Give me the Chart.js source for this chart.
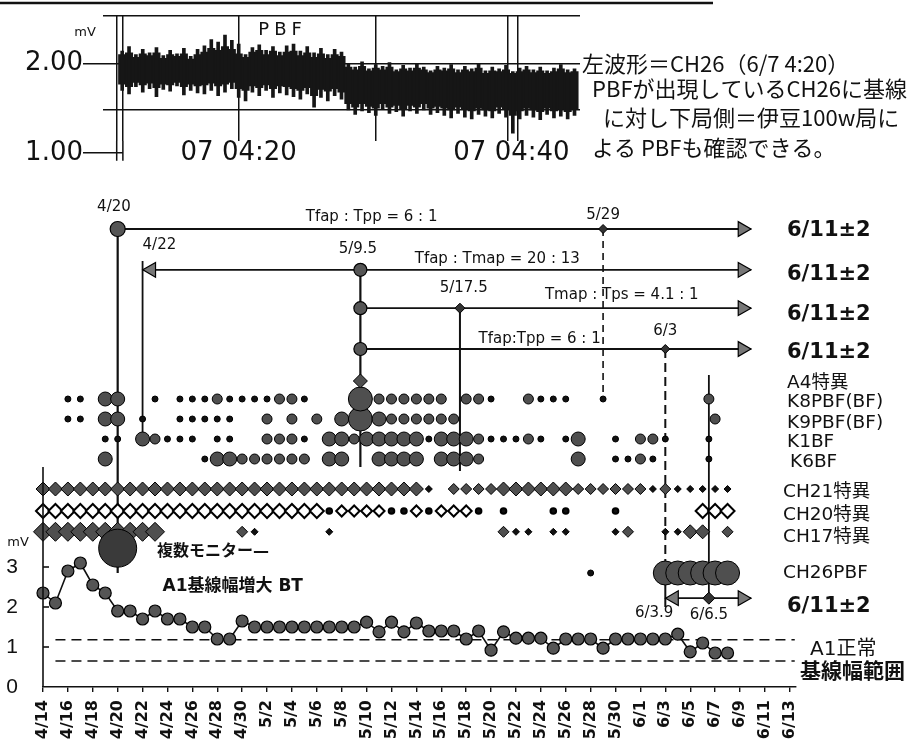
<!DOCTYPE html>
<html lang="ja">
<head>
<meta charset="utf-8">
<title>CH26 PBF と前兆の推移</title>
<script src="https://cdn.jsdelivr.net/npm/chart.js@4.4.1/dist/chart.umd.min.js"></script>
<style>
  html, body { margin: 0; padding: 0; background: #fff; }
  #wrap { position: relative; width: 914px; height: 752px; overflow: hidden; }
  canvas { position: absolute; left: 0; top: 0; }
</style>
</head>
<body>
<div id="wrap">
  <canvas id="main_chart" width="914" height="752"></canvas>
  <canvas id="wave_chart" width="914" height="190"></canvas>
</div>
<script>
// ---------- 上段: CH26 波形 (6/7, 30秒ごとの振れ幅 mV) ----------
var waveStart = 11.5;   // 4時11分30秒 (分)
var waveStep = 0.5;
var wavePeakHi = [2.14, 2.19, 2.10, 2.16, 2.12, 2.18, 2.09, 2.15, 2.11, 2.17, 2.08, 2.16,
  2.20, 2.27, 2.24, 2.32, 2.26, 2.22,
  2.10, 2.18, 2.21, 2.15, 2.19, 2.13, 2.20,
  2.22, 2.14, 2.19, 2.12, 2.17, 2.10, 2.16, 2.13,
  2.00, 1.96, 2.02, 1.94, 1.99, 1.97, 2.01, 1.93, 1.98, 1.95, 2.00, 1.96, 1.92, 1.97,
  1.95, 1.99, 1.93, 1.97, 1.94, 2.00, 1.92, 1.96, 1.94, 1.98, 1.91, 1.95, 1.97, 1.93, 1.96, 1.92, 1.95, 1.99, 1.93, 1.94];
var wavePeakLo = [1.70, 1.66, 1.74, 1.68, 1.72, 1.63, 1.71, 1.69, 1.75, 1.65, 1.70, 1.67,
  1.66, 1.70, 1.64, 1.68, 1.72, 1.62,
  1.58, 1.68, 1.64, 1.70, 1.62, 1.67, 1.65,
  1.63, 1.60, 1.66, 1.51, 1.62, 1.58, 1.64, 1.60,
  1.48, 1.43, 1.47, 1.45, 1.42, 1.49, 1.44, 1.46, 1.41, 1.47, 1.44, 1.48, 1.43, 1.45,
  1.42, 1.39, 1.44, 1.40, 1.38, 1.43, 1.41, 1.39, 1.44, 1.40, 1.22, 1.38, 1.42, 1.40, 1.37, 1.43, 1.39, 1.41, 1.38, 1.42];
var waveCoreHi = [2.10, 2.12, 2.07, 2.11, 2.09, 2.12, 2.06, 2.10, 2.08, 2.11, 2.05, 2.10,
  2.13, 2.17, 2.15, 2.19, 2.16, 2.11,
  2.07, 2.13, 2.15, 2.10, 2.14, 2.09, 2.13,
  2.14, 2.09, 2.12, 2.07, 2.11, 2.06, 2.10, 2.08,
  1.96, 1.93, 1.97, 1.92, 1.95, 1.93, 1.96, 1.91, 1.94, 1.92, 1.95, 1.93, 1.90, 1.93,
  1.92, 1.94, 1.90, 1.93, 1.91, 1.95, 1.89, 1.92, 1.91, 1.93, 1.89, 1.91, 1.93, 1.90, 1.92, 1.89, 1.91, 1.94, 1.90, 1.91];
var waveCoreLo = [1.77, 1.74, 1.79, 1.76, 1.78, 1.73, 1.77, 1.76, 1.79, 1.74, 1.77, 1.75,
  1.76, 1.78, 1.75, 1.77, 1.79, 1.72,
  1.70, 1.75, 1.73, 1.76, 1.72, 1.75, 1.74,
  1.72, 1.70, 1.73, 1.64, 1.71, 1.69, 1.72, 1.68,
  1.55, 1.51, 1.55, 1.52, 1.50, 1.55, 1.51, 1.53, 1.49, 1.53, 1.51, 1.55, 1.50, 1.52,
  1.50, 1.48, 1.51, 1.49, 1.47, 1.50, 1.48, 1.47, 1.51, 1.49, 1.42, 1.47, 1.50, 1.48, 1.46, 1.50, 1.47, 1.49, 1.46, 1.49];
var waveTicks = [11.1, 11.55, 20, 30, 39.65, 40.35];
var waveTimeLabels = ['07 04:20', '07 04:40'];
var waveNote = ['左波形＝CH26（6/7 4:20）', 'PBFが出現しているCH26に基線', 'に対し下局側＝伊豆100w局に', 'よる PBFも確認できる。'];

// ---------- 下段: 日別の前兆 (4/14 を 0 日とする) ----------
var dayLabels = ['4/14', '4/16', '4/18', '4/20', '4/22', '4/24', '4/26', '4/28', '4/30', '5/2', '5/4',
  '5/6', '5/8', '5/10', '5/12', '5/14', '5/16', '5/18', '5/20', '5/22', '5/24', '5/26', '5/28', '5/30',
  '6/1', '6/3', '6/5', '6/7', '6/9', '6/11', '6/13'];

// A1 基線幅 (mV)
var a1Days = [0, 1, 2, 3, 4, 5, 6, 7, 8, 9, 10, 11, 12, 13, 14, 15, 16, 17, 18, 19, 20, 21, 22, 23, 24, 25, 26, 27,
  28, 29, 30, 31, 32, 33, 34, 35, 36, 37, 38, 39, 40, 41, 42, 43, 44, 45, 46, 47, 48, 49, 50, 51, 52, 53, 54, 55];
var a1Values = [2.35, 2.1, 2.9, 3.1, 2.55, 2.35, 1.9, 1.9, 1.7, 1.9,
  1.7, 1.7, 1.5, 1.5, 1.2, 1.2, 1.65, 1.5, 1.5, 1.5,
  1.5, 1.5, 1.5, 1.5, 1.5, 1.5, 1.62, 1.38, 1.62, 1.38,
  1.6, 1.4, 1.4, 1.4, 1.2, 1.4, 0.92, 1.38, 1.22, 1.22,
  1.22, 0.97, 1.2, 1.2, 1.2, 0.97, 1.2, 1.2, 1.2, 1.2,
  1.2, 1.32, 0.88, 1.1, 0.85, 0.85];
var normalRange = [0.65, 1.18];   // A1 正常基線幅範囲 (mV)

// 各観測点の異常 (日, 強さ 1〜4)
var a4Days = [25.5];
var a4Level = [3];
var k8Days = [2, 3, 5, 6, 9, 11, 12, 13, 14, 15, 16, 17, 18, 19, 20, 21, 25.5, 27, 28, 29, 30, 31, 32, 34, 35, 36, 39, 40, 41, 42, 45, 53.5];
var k8Level = [1, 1, 3, 3, 1, 1, 1, 1, 2, 1, 1, 1, 1, 2, 2, 1, 4, 2, 2, 2, 2, 2, 2, 2, 2, 1, 2, 1, 1, 1, 1, 2];
var k9Days = [2, 3, 5, 6, 8, 11, 12, 13, 14, 15, 18, 20, 22, 24, 25.5, 27, 28, 29, 30, 31, 32, 33, 54];
var k9Level = [1, 1, 3, 3, 1, 1, 1, 1, 1, 1, 2, 2, 2, 3, 4, 3, 2, 2, 2, 2, 2, 2, 2];
var k1Days = [5, 6, 8, 9, 10, 11, 12, 14, 15, 18, 19, 20, 21, 23, 24, 25, 26, 27, 28, 29, 30, 31,
  32, 33, 34, 35, 36, 37, 38, 39, 40, 42, 43, 46, 48, 49, 50, 53.5];
var k1Level = [1, 1, 3, 2, 1, 1, 1, 1, 1, 2, 2, 2, 1, 3, 3, 2, 3, 3, 3, 3, 3, 1,
  3, 3, 3, 2, 1, 1, 1, 2, 1, 1, 3, 1, 2, 2, 1, 1];
var k6Days = [5, 13, 14, 15, 16, 17, 18, 19, 20, 21, 23, 24, 27, 28, 29, 30, 32, 33, 34, 35, 43, 46, 47, 48, 49, 53.5];
var k6Level = [3, 1, 3, 3, 2, 2, 2, 2, 2, 2, 3, 3, 3, 3, 3, 3, 3, 3, 3, 2, 3, 1, 1, 2, 1, 1];
var ch21Days = [0, 1, 2, 3, 4, 5, 6, 7, 8, 9, 10, 11, 12, 13, 14, 15, 16, 17, 18, 19, 20, 21, 22, 23, 24, 25, 26, 27,
  28, 29, 30, 31, 33, 34, 35, 36, 37, 38, 39, 40, 41, 42, 43, 44, 45, 46, 47, 48, 49, 50, 51, 52, 53, 54, 55];
var ch21Level = [3, 3, 3, 3, 3, 3, 3, 3, 3, 3, 3, 3, 3, 3, 3, 3, 3, 3, 3, 3, 3, 3, 3, 3, 3, 3, 3, 3,
  3, 3, 3, 1, 2, 2, 2, 2, 3, 3, 3, 3, 3, 3, 2, 2, 2, 2, 2, 2, 1, 2, 1, 1, 1, 1, 1];
var ch20Days = [0, 1, 2, 3, 4, 5, 6, 7, 8, 9, 10, 11, 12, 13, 14, 15, 16, 17, 18, 19, 20, 21, 22,
  23, 24, 25, 26, 27, 28, 29, 30, 31, 32, 33, 34, 35, 37, 41, 42, 46, 53, 54, 55];
var ch20Level = [3, 3, 3, 3, 3, 3, 3, 3, 3, 3, 3, 3, 3, 3, 3, 3, 3, 3, 3, 3, 3, 3, 3,
  1, 2, 2, 2, 2, 1, 1, 2, 1, 2, 2, 2, 1, 1, 1, 1, 1, 3, 3, 3];
var ch17Days = [0, 1, 2, 3, 4, 5, 6, 7, 8, 9, 16, 17, 23, 37, 38, 39, 41, 42, 46, 47, 50, 51, 52, 53, 55];
var ch17Level = [4, 4, 4, 4, 4, 4, 4, 4, 4, 4, 2, 1, 1, 2, 1, 1, 1, 1, 1, 2, 1, 1, 3, 3, 2];
var ch26Days = [44, 50, 51, 52, 53, 54, 55];
var ch26Level = [1, 4, 4, 4, 4, 4, 4];
var multiDays = [6];   // 複数モニター (4/20)

// 前兆期間と予測日
var leadFrom = ['4/20', '4/22', '5/9.5', '5/9.5', '6/3'];
var leadMark = ['5/29', '5/9.5', '5/17.5', '6/3', '6/6.5'];
var leadRatio = ['Tfap : Tpp = 6 : 1', 'Tfap : Tmap = 20 : 13', 'Tmap : Tps = 4.1 : 1', 'Tfap:Tpp = 6 : 1', ''];

// 右側の項目名
var rightTickPos = [11.4, 10.3, 9.3, 8.35, 7.6, 7.12, 6.6, 6.12, 5.62, 4.88, 4.3, 3.75, 2.85, 2.0, 0.93, 0.35];
var rightTickText = ['6/11±2', '6/11±2', '6/11±2', '6/11±2', 'A4特異', 'K8PBF(BF)', 'K9PBF(BF)', 'K1BF', 'K6BF',
  'CH21特異', 'CH20特異', 'CH17特異', 'CH26PBF', '6/11±2', 'A1正常', '基線幅範囲'];

// ---------- 描画 ----------
var ink = '#111';
var dotFill = '#4f4f4f';
var circleR = [0, 3, 5, 7, 12];
var diamondR = [0, 3.5, 5.5, 7, 9.5];
var jp = '"DejaVu Sans", "Noto Sans CJK JP"';

function dayOf(d) {
  var p = d.split('/');
  var m = Number(p[0]), dd = Number(p[1]);
  if (m === 4) return dd - 14;
  if (m === 5) return dd + 16;
  return dd + 47;
}

function pts(days, y) {
  return days.map(function (d) { return { x: d, y: y }; });
}

function circleRow(days, levels, y) {
  return {
    type: 'scatter',
    data: pts(days, y),
    pointStyle: 'circle',
    pointRadius: levels.map(function (l) { return circleR[l]; }),
    pointBackgroundColor: levels.map(function (l) { return l === 1 ? ink : dotFill; }),
    pointBorderColor: '#000',
    pointBorderWidth: 1,
    clip: false,
    order: 10
  };
}

function diamondRow(days, levels, y, open) {
  return {
    type: 'scatter',
    data: pts(days, y),
    pointStyle: levels.map(function (l) { return open && l === 1 ? 'circle' : 'rectRot'; }),
    pointRadius: levels.map(function (l) { return open && l === 1 ? 2.8 : diamondR[l]; }),
    pointBackgroundColor: levels.map(function (l) {
      if (l === 1) return ink;
      return open ? '#fff' : dotFill;
    }),
    pointBorderColor: '#000',
    pointBorderWidth: open ? 2 : 1,
    clip: false,
    order: 10
  };
}

function segment(x1, y1, x2, y2, width, dash) {
  return {
    type: 'line',
    data: [{ x: x1, y: y1 }, { x: x2, y: y2 }],
    borderColor: ink,
    borderWidth: width,
    borderDash: dash || [],
    pointRadius: 0,
    clip: false,
    order: 20
  };
}

// 行の高さ (レイアウト)
var rowY = { A4: 7.65, K8: 7.2, K9: 6.7, K1: 6.2, K6: 5.7, CH21: 4.95, CH20: 4.4, CH17: 3.88, CH26: 2.85, multi: 3.47 };
var laneY = [11.45, 10.43, 9.47, 8.45, 2.22];
var laneBack = [false, true, false, false, true];
var arrowEnd = 56.9;

var drops = [
  { at: '4/20', top: laneY[0], bottom: rowY.CH26, w: 2.2 },
  { at: '4/22', top: 10.65, bottom: rowY.K1, w: 1.8 },
  { at: '5/9.5', top: laneY[1], bottom: 5.5, w: 2.2 },
  { at: '5/17.5', top: laneY[2], bottom: 5.4, w: 2 },
  { at: '5/29', top: laneY[0], bottom: rowY.K8, w: 1.6, dash: [7, 5] },
  { at: '6/3', top: laneY[3], bottom: 3.1, w: 2, dash: [9, 5] },
  { at: '6/3', top: 3.1, bottom: 2.0, w: 2 },
  { at: '6/6.5', top: 7.8, bottom: laneY[4], w: 1.8 }
];

var datasets = [];

leadFrom.forEach(function (from, i) {
  datasets.push(segment(dayOf(from), laneY[i], arrowEnd, laneY[i], 1.8));
});
drops.forEach(function (d) {
  datasets.push(segment(dayOf(d.at), d.top, dayOf(d.at), d.bottom, d.w, d.dash));
});
normalRange.forEach(function (v) {
  datasets.push(segment(1, v, 60.4, v, 1.6, [10, 6]));
});

datasets.push(diamondRow(ch21Days, ch21Level, rowY.CH21, false));
datasets.push(diamondRow(ch20Days, ch20Level, rowY.CH20, true));
datasets.push(diamondRow(ch17Days, ch17Level, rowY.CH17, false));
datasets.push(diamondRow(a4Days, a4Level, rowY.A4, false));
datasets.push(circleRow(k8Days, k8Level, rowY.K8));
datasets.push(circleRow(k9Days, k9Level, rowY.K9));
datasets.push(circleRow(k1Days, k1Level, rowY.K1));
datasets.push(circleRow(k6Days, k6Level, rowY.K6));
datasets.push(circleRow(ch26Days, ch26Level, rowY.CH26));
datasets.push({
  type: 'scatter',
  data: pts(multiDays, rowY.multi),
  pointRadius: 19,
  pointBackgroundColor: '#3a3a3a',
  pointBorderColor: '#000',
  clip: false,
  order: 9
});

// A1 基線幅
datasets.push({
  type: 'line',
  data: a1Days.map(function (d, i) { return { x: d, y: a1Values[i] }; }),
  borderColor: ink,
  borderWidth: 1.6,
  pointRadius: 6,
  pointBackgroundColor: '#555',
  pointBorderColor: '#000',
  pointBorderWidth: 1.2,
  tension: 0,
  clip: false,
  order: 2
});

// 矢印の先
var heads = [], headRot = [];
leadFrom.forEach(function (from, i) {
  heads.push({ x: arrowEnd - 0.7, y: laneY[i] });
  headRot.push(90);
  if (laneBack[i]) {
    heads.push({ x: dayOf(from) + 0.7, y: laneY[i] });
    headRot.push(-90);
  }
});
datasets.push({
  type: 'scatter',
  data: heads,
  pointStyle: 'triangle',
  pointRotation: headRot,
  pointRadius: 8.5,
  pointBackgroundColor: '#777',
  pointBorderColor: '#000',
  pointBorderWidth: 1.2,
  clip: false,
  order: 1
});

// 始点 (丸) と中間点 (菱形)
datasets.push({
  type: 'scatter',
  data: [
    { x: dayOf(leadFrom[0]), y: laneY[0] },
    { x: dayOf(leadMark[1]), y: laneY[1] },
    { x: dayOf(leadFrom[2]), y: laneY[2] },
    { x: dayOf(leadFrom[3]), y: laneY[3] }
  ],
  pointRadius: [7.5, 6.5, 6.5, 6.5],
  pointBackgroundColor: '#555',
  pointBorderColor: '#000',
  pointBorderWidth: 1.2,
  clip: false,
  order: 1
});
datasets.push({
  type: 'scatter',
  data: [
    { x: dayOf(leadMark[0]), y: laneY[0] },
    { x: dayOf(leadMark[2]), y: laneY[2] },
    { x: dayOf(leadMark[3]), y: laneY[3] },
    { x: dayOf(leadMark[4]), y: laneY[4] }
  ],
  pointStyle: 'rectRot',
  pointRadius: [4.5, 5, 4.5, 6],
  pointBackgroundColor: '#333',
  pointBorderColor: '#000',
  clip: false,
  order: 1
});

var notes = [
  { t: '4/20', x: dayOf('4/20') - 0.3, y: 12.0 },
  { t: leadRatio[0], x: 26.4, y: 11.75 },
  { t: '5/29', x: dayOf('5/29'), y: 11.8 },
  { t: '4/22', x: dayOf('4/22'), y: 11.05, align: 'left' },
  { t: '5/9.5', x: dayOf('5/9.5') - 0.2, y: 10.95 },
  { t: leadRatio[1], x: 36.5, y: 10.7 },
  { t: '5/17.5', x: dayOf('5/17.5') + 0.3, y: 9.98 },
  { t: leadRatio[2], x: 46.5, y: 9.8 },
  { t: leadRatio[3], x: 39.9, y: 8.7 },
  { t: '6/3', x: dayOf('6/3'), y: 8.9 },
  { t: '6/3.9', x: 49.1, y: 1.85 },
  { t: '6/6.5', x: dayOf('6/6.5'), y: 1.8 },
  { t: '複数モニター—', x: 9.15, y: 3.38, align: 'left', font: 'bold 16px ' + jp },
  { t: 'A1基線幅増大 BT', x: 9.6, y: 2.5, align: 'left', font: 'bold 17px ' + jp }
];

// 右側の項目名の横位置 (チャート右端からのずれ px)
function rightStyle(t) {
  if (t === '6/11±2') return { dx: -9, font: 'bold 21px "DejaVu Sans"' };
  if (t === '基線幅範囲') return { dx: 4, font: 'bold 21px ' + jp };
  if (t === 'A1正常') return { dx: 14, font: '20px ' + jp };
  if (t.indexOf('CH') === 0) return { dx: -13, font: '18.5px ' + jp };
  if (t === 'K6BF') return { dx: -6, font: '18.5px ' + jp };
  return { dx: -9, font: '18.5px ' + jp };
}

var mainDecor = {
  id: 'mainDecor',
  afterDatasetsDraw: function (chart) {
    var ctx = chart.ctx, xs = chart.scales.x, ys = chart.scales.y, a = chart.chartArea;
    var x0 = xs.getPixelForValue(0);
    ctx.save();
    ctx.strokeStyle = ink;
    ctx.lineWidth = 1.6;
    ctx.beginPath();
    ctx.moveTo(x0, ys.getPixelForValue(0));
    ctx.lineTo(x0, ys.getPixelForValue(5.5));
    ctx.stroke();
    [1, 2, 3].forEach(function (v) {
      var y = ys.getPixelForValue(v);
      ctx.beginPath();
      ctx.moveTo(x0, y);
      ctx.lineTo(x0 + 6, y);
      ctx.stroke();
    });
    ctx.fillStyle = ink;
    ctx.textBaseline = 'middle';
    ctx.textAlign = 'center';
    ctx.font = '13px "DejaVu Sans"';
    ctx.fillText('mV', x0 - 25, ys.getPixelForValue(3.6));
    notes.forEach(function (n) {
      ctx.font = n.font || '15px ' + jp;
      ctx.textAlign = n.align || 'center';
      ctx.fillText(n.t, xs.getPixelForValue(n.x), ys.getPixelForValue(n.y));
    });
    ctx.textAlign = 'left';
    rightTickText.forEach(function (t, i) {
      var s = rightStyle(t);
      ctx.font = s.font;
      ctx.fillText(t, a.right + s.dx, ys.getPixelForValue(rightTickPos[i]));
    });
    ctx.restore();
  }
};

new Chart(document.getElementById('main_chart').getContext('2d'), {
  type: 'scatter',
  data: { datasets: datasets },
  options: {
    responsive: false,
    animation: false,
    events: [],
    layout: { padding: { top: 200, left: 0, right: 118, bottom: 0 } },
    plugins: { legend: { display: false }, tooltip: { enabled: false } },
    scales: {
      x: {
        type: 'linear',
        min: 0,
        max: 60.5,
        afterBuildTicks: function (scale) {
          scale.ticks = dayLabels.map(function (l) { return { value: dayOf(l) }; });
        },
        afterFit: function (scale) { scale.height = 65; },
        grid: { display: true, drawOnChartArea: false, drawTicks: true, tickLength: 5, color: ink, lineWidth: 1.4 },
        border: { display: true, color: ink, width: 1.6 },
        ticks: {
          autoSkip: false,
          minRotation: 90,
          maxRotation: 90,
          padding: 8,
          color: ink,
          font: { family: 'DejaVu Sans', size: 16, weight: 'bold' },
          callback: function (v, i) { return dayLabels[i]; }
        }
      },
      y: {
        type: 'linear',
        min: 0,
        max: 12.175,
        afterBuildTicks: function (scale) {
          scale.ticks = [0, 1, 2, 3].map(function (v) { return { value: v }; });
        },
        afterFit: function (scale) { scale.width = 43; },
        grid: { display: false },
        border: { display: false },
        ticks: {
          autoSkip: false,
          padding: 17,
          color: ink,
          font: { family: 'Liberation Sans', size: 21 },
          callback: function (v) { return String(v); }
        }
      }
    }
  },
  plugins: [mainDecor]
});

// ---------- 上段の波形 ----------
var waveTimes = wavePeakHi.map(function (v, i) { return waveStart + i * waveStep; });

var waveDecor = {
  id: 'waveDecor',
  afterDraw: function (chart) {
    var ctx = chart.ctx, a = chart.chartArea, xs = chart.scales.x, ys = chart.scales.y;
    var y1 = ys.getPixelForValue(1.0);
    ctx.save();
    ctx.strokeStyle = ink;
    ctx.lineWidth = 2.5;
    ctx.beginPath();
    ctx.moveTo(0, 3);
    ctx.lineTo(713, 3);
    ctx.stroke();
    // 1.00 の目盛と左端の二重線
    ctx.lineWidth = 1.5;
    ctx.beginPath();
    ctx.moveTo(a.left - 20, y1);
    ctx.lineTo(xs.getPixelForValue(11.55), y1);
    [11.1, 11.55].forEach(function (t) {
      ctx.moveTo(xs.getPixelForValue(t), a.bottom);
      ctx.lineTo(xs.getPixelForValue(t), y1 + 8);
    });
    ctx.stroke();
    ctx.fillStyle = ink;
    ctx.textBaseline = 'middle';
    ctx.textAlign = 'right';
    ctx.font = '26px "DejaVu Sans"';
    ctx.fillText('1.00', a.left - 20, y1);
    ctx.textAlign = 'center';
    ctx.fillText(waveTimeLabels[0], xs.getPixelForValue(20), y1);
    ctx.fillText(waveTimeLabels[1], xs.getPixelForValue(39.9), y1);
    ctx.font = '13px "DejaVu Sans"';
    ctx.fillText('mV', a.left - 18, ys.getPixelForValue(2.35));
    ctx.font = '18px "DejaVu Sans"';
    ctx.letterSpacing = '5px';
    ctx.fillText('PBF', xs.getPixelForValue(23.2), ys.getPixelForValue(2.37));
    ctx.letterSpacing = '0px';
    ctx.textAlign = 'left';
    ctx.font = '22px "Noto Sans CJK JP"';
    var dx = [2, 12, 23, 12], vy = [2.0, 1.714, 1.396, 1.055];
    waveNote.forEach(function (t, i) {
      ctx.fillText(t, a.right + dx[i], ys.getPixelForValue(vy[i]));
    });
    ctx.restore();
  }
};

new Chart(document.getElementById('wave_chart').getContext('2d'), {
  type: 'bar',
  data: {
    datasets: [{
      data: waveTimes.map(function (t, i) { return { x: t, y: [waveCoreLo[i], waveCoreHi[i]] }; }),
      backgroundColor: '#161616',
      barThickness: 7.4,
      grouped: false,
      order: 2
    }, {
      data: waveTimes.map(function (t, i) { return { x: t, y: [wavePeakLo[i], wavePeakHi[i]] }; }),
      backgroundColor: '#161616',
      barThickness: 3,
      grouped: false,
      order: 1
    }]
  },
  options: {
    responsive: false,
    animation: false,
    events: [],
    layout: { padding: { top: 13, right: 334, left: 0, bottom: 0 } },
    plugins: { legend: { display: false }, tooltip: { enabled: false } },
    scales: {
      x: {
        type: 'linear',
        min: 10.1,
        max: 44.9,
        offset: false,
        afterBuildTicks: function (scale) {
          scale.ticks = waveTicks.map(function (v) { return { value: v }; });
        },
        afterFit: function (scale) { scale.height = 49; },
        grid: { offset: false, drawTicks: false, lineWidth: 1.5, color: ink },
        border: { display: false },
        ticks: { autoSkip: false, maxRotation: 0, callback: function () { return ''; } }
      },
      y: {
        type: 'linear',
        min: 1.132,
        max: 2.538,
        afterBuildTicks: function (scale) {
          scale.ticks = [1.48, 2, 2.538].map(function (v) { return { value: v }; });
        },
        afterFit: function (scale) { scale.width = 103; },
        grid: {
          lineWidth: 1.5,
          tickLength: 20,
          color: ink,
          tickColor: function (c) { return c.tick && c.tick.value === 2 ? ink : 'rgba(0,0,0,0)'; }
        },
        border: { display: false },
        ticks: {
          autoSkip: false,
          padding: 0,
          color: ink,
          font: { family: 'DejaVu Sans', size: 26 },
          callback: function (v) { return v === 2 ? '2.00' : ''; }
        }
      }
    }
  },
  plugins: [waveDecor]
});
</script>
</body>
</html>
